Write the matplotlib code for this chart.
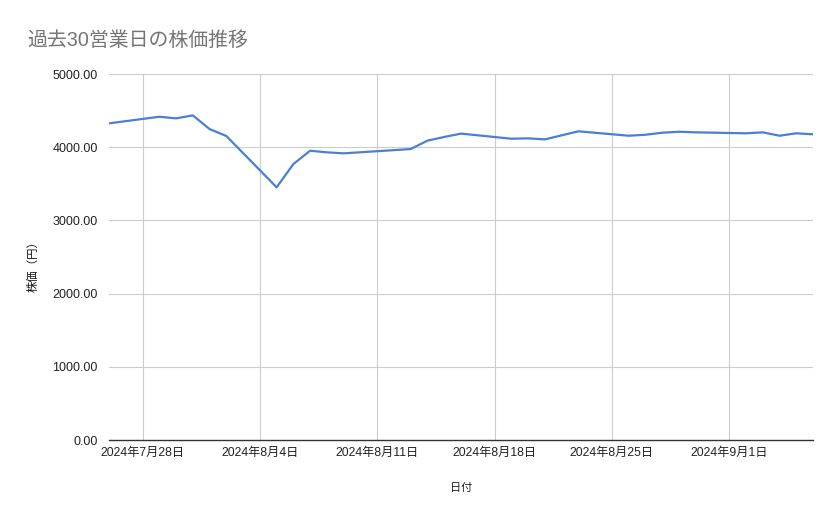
import datetime as dt

import matplotlib
matplotlib.use("Agg")
import matplotlib.pyplot as plt
import matplotlib.dates as mdates
from matplotlib.ticker import FuncFormatter

plt.rcParams["font.family"] = ["Liberation Sans", "Noto Sans CJK JP", "DejaVu Sans"]

# 日付（東証営業日、8/12 は振替休日）
dates = [
    "2024-07-26", "2024-07-29", "2024-07-30", "2024-07-31", "2024-08-01", "2024-08-02",
    "2024-08-05", "2024-08-06", "2024-08-07", "2024-08-08", "2024-08-09",
    "2024-08-13", "2024-08-14", "2024-08-15", "2024-08-16",
    "2024-08-19", "2024-08-20", "2024-08-21", "2024-08-22", "2024-08-23",
    "2024-08-26", "2024-08-27", "2024-08-28", "2024-08-29", "2024-08-30",
    "2024-09-02", "2024-09-03", "2024-09-04", "2024-09-05", "2024-09-06",
]
prices = [
    4326, 4416, 4394, 4435, 4248, 4153,
    3452, 3770, 3952, 3930, 3916,
    3975, 4090, 4140, 4186,
    4116, 4121, 4107, 4162, 4217,
    4157, 4170, 4198, 4211, 4203,
    4190, 4203, 4157, 4190, 4176,
]
x = [dt.datetime.strptime(d, "%Y-%m-%d") for d in dates]

fig = plt.figure(figsize=(8.39, 5.19), dpi=100)
ax = fig.add_axes([0.1299, 0.1522, 0.8392, 0.7052])

ax.plot(x, prices, color="#4a80d4", lw=1.6, solid_joinstyle="round")

ax.set_xlim(x[0], x[-1])
ax.set_ylim(0, 5000)
ax.set_yticks(range(0, 5001, 1000))
ax.yaxis.set_major_formatter(FuncFormatter(lambda v, p: f"{v:.2f}"))
ax.xaxis.set_major_locator(mdates.WeekdayLocator(byweekday=mdates.SU))
ax.xaxis.set_major_formatter(FuncFormatter(
    lambda v, p: (lambda d: f"{d.year}年{d.month}月{d.day}日")(mdates.num2date(v))))

ax.grid(True, color="#cccccc", lw=0.8)
ax.set_axisbelow(True)
for s in ["top", "right", "left"]:
    ax.spines[s].set_visible(False)
ax.spines["bottom"].set_color("#333333")
ax.spines["bottom"].set_linewidth(1.0)
ax.tick_params(axis="both", length=0, colors="#222222")
ax.tick_params(axis="y", labelsize=9, pad=8)
ax.tick_params(axis="x", labelsize=8.8, pad=5)

ax.set_xlabel("日付", fontsize=8, color="#222222", labelpad=17)
fig.text(0.039, 1 - 264 / 519, "株価（円）", fontsize=8.2, color="#111111",
         rotation=90, ha="center", va="center")

fig.text(0.032, 0.923, "過去30営業日の株価推移", fontsize=14.3, color="#757575",
         ha="left", va="center")

fig.savefig("out.png", dpi=100)
